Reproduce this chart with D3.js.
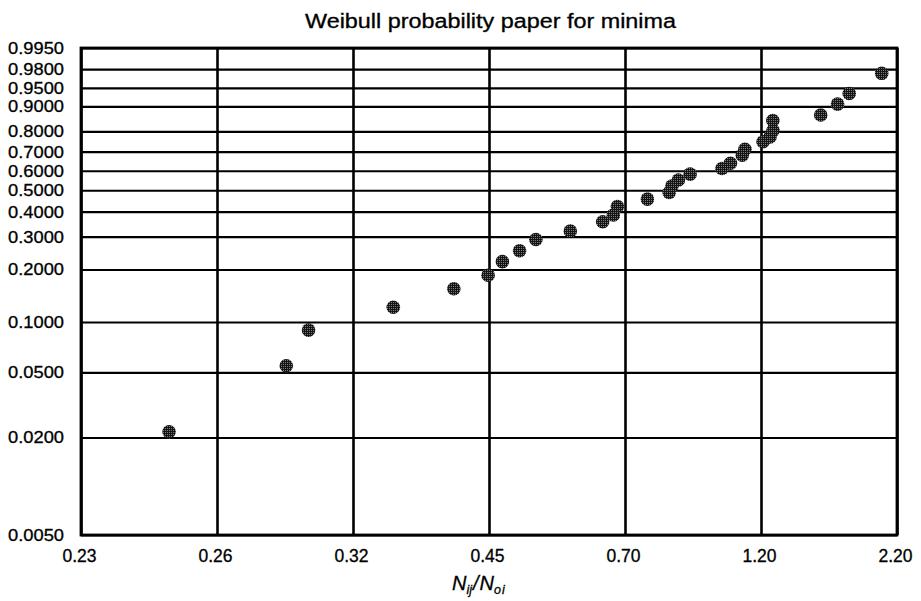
<!DOCTYPE html>
<html>
<head>
<meta charset="utf-8">
<script src="https://cdn.jsdelivr.net/npm/d3@7"></script>
<style>
  body { margin: 0; background: #fff; }
  text { font-family: "Liberation Sans", Arial, sans-serif; fill: #000; stroke: #000; stroke-width: 0.3px; }
</style>
</head>
<body>
<script>
// tick labels of the probability paper
const xTicks = [0.23, 0.26, 0.32, 0.45, 0.70, 1.20, 2.20];
const yTicks = [0.005, 0.02, 0.05, 0.1, 0.2, 0.3, 0.4, 0.5, 0.6, 0.7, 0.8, 0.9, 0.95, 0.98, 0.995];

// plotted points: N_ij/N_oi and cumulative probability
const ratio = [0.249, 0.289, 0.299, 0.354, 0.412, 0.449, 0.470, 0.497, 0.524, 0.586,
               0.651, 0.674, 0.683, 0.765, 0.834, 0.843, 0.865, 0.906, 1.028, 1.063,
               1.114, 1.126, 1.211, 1.249, 1.266, 1.265, 1.566, 1.688, 1.778, 2.055];
const prob = [0.0217, 0.0548, 0.0896, 0.122, 0.156, 0.186, 0.221, 0.253, 0.290, 0.321,
              0.357, 0.385, 0.423, 0.457, 0.489, 0.521, 0.552, 0.582, 0.612, 0.639,
              0.682, 0.712, 0.750, 0.773, 0.804, 0.847, 0.869, 0.907, 0.937, 0.975];

// set the dimensions and margins of the graph
const margin = {top: 48, right: 24, bottom: 66, left: 81},
    width = 921 - margin.left - margin.right,
    height = 601 - margin.top - margin.bottom;

const root = d3.select("body")
    .append("svg")
    .attr("width", 921)
    .attr("height", 601);

// halftone look of the dots
const pat = root.append("defs").append("pattern")
    .attr("id", "dots")
    .attr("width", 2).attr("height", 2)
    .attr("patternUnits", "userSpaceOnUse");
pat.append("rect").attr("width", 2).attr("height", 2).attr("fill", "#141414");
pat.append("rect").attr("width", 1).attr("height", 1).attr("fill", "#7a7a7a");

const svg = root.append("g")
    .attr("transform", "translate(" + margin.left + "," + margin.top + ")");

// Weibull transform for the y axis
const weib = function(p) { return Math.log(-Math.log(1 - p)); };
const unweib = function(t) { return 1 - Math.exp(-Math.exp(t)); };

// x: log scale, tick labels equally spaced on the paper
const x = d3.scaleLog()
    .domain(xTicks)
    .range(xTicks.map(function(d, i) { return i * width / (xTicks.length - 1); }));

const y = d3.scaleLinear()
    .domain([weib(yTicks[0]), weib(yTicks[yTicks.length - 1])])
    .range([height, 0]);

// y grid + labels
const yAxis = svg.append("g")
    .call(d3.axisLeft(y)
        .tickValues(yTicks.map(weib))
        .tickFormat(function(t) { return unweib(t).toFixed(4); })
        .tickSize(-width)
        .tickPadding(17));
yAxis.select(".domain").remove();
yAxis.selectAll("line").attr("stroke", "#000").attr("stroke-width", 2.2);
yAxis.selectAll("text")
    .style("font-size", "17px")
    .attr("textLength", 56)
    .attr("lengthAdjust", "spacingAndGlyphs");

// x grid + labels
const xAxis = svg.append("g")
    .attr("transform", "translate(0," + height + ")")
    .call(d3.axisBottom(x)
        .tickValues(xTicks)
        .tickFormat(d3.format(".2f"))
        .tickSize(-height)
        .tickPadding(15));
xAxis.select(".domain").remove();
xAxis.selectAll("line").attr("stroke", "#000").attr("stroke-width", 2.6);
xAxis.selectAll("text")
    .style("font-size", "17.5px")
    .attr("dx", -2);

// frame
svg.append("rect")
    .attr("width", width)
    .attr("height", height)
    .attr("fill", "none")
    .attr("stroke", "#000")
    .attr("stroke-width", 2.8);

// the points
svg.selectAll("mydot")
    .data(ratio)
    .enter()
    .append("circle")
        .attr("cx", function(d) { return x(d); })
        .attr("cy", function(d, i) { return y(weib(prob[i])); })
        .attr("r", 6.8)
        .attr("fill", "url(#dots)");

// title
root.append("text")
    .attr("x", 305)
    .attr("y", 27.5)
    .attr("textLength", 371)
    .attr("lengthAdjust", "spacingAndGlyphs")
    .style("font-size", "19.5px")
    .text("Weibull probability paper for minima");

// x axis label N_ij / N_oi
const lab = root.append("text")
    .attr("x", 452)
    .attr("y", 590)
    .style("font-size", "20px")
    .style("font-style", "italic");
lab.append("tspan").text("N");
lab.append("tspan").attr("dy", 4).style("font-size", "12.5px").text("ij");
lab.append("tspan").attr("dy", -4).attr("dx", 1).text("/");
lab.append("tspan").attr("dx", 1).text("N");
lab.append("tspan").attr("dy", 4).style("font-size", "12.5px").style("letter-spacing", "1px").text("oi");
</script>
</body>
</html>
